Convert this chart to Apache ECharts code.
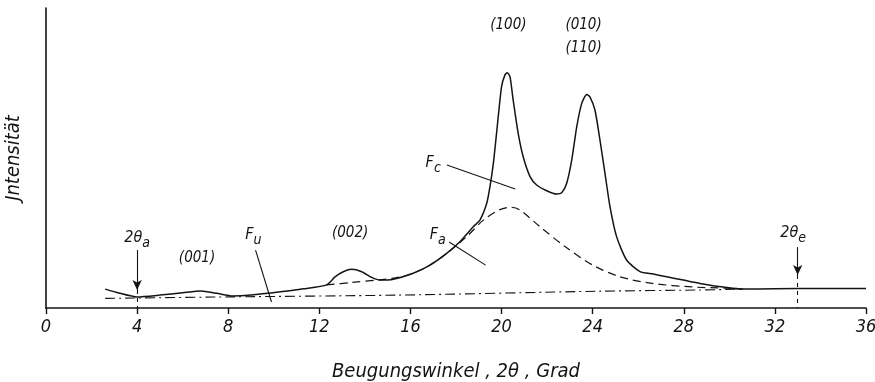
<!DOCTYPE html>
<html>
<head>
<meta charset="utf-8">
<script src="https://cdn.jsdelivr.net/npm/echarts@6/dist/echarts.min.js"></script>
<style>
html,body{margin:0;padding:0;background:#fff;}
#chart{width:875px;height:382px;}
</style>
</head>
<body>
<div id="chart"></div>
<script>
// ---- data (angle 2θ in degrees, intensity in arbitrary units) ----
var totalX = [2.6, 3.2, 4.0, 5.0, 6.0, 6.8, 7.5, 8.2, 9.0, 10.3, 11.3, 12.32, 12.69, 13.05, 13.42, 13.86, 14.3, 14.66, 15.25, 16.12, 16.86, 17.59, 18.17, 18.76, 19.05, 19.35, 19.49, 19.64, 19.78, 20.0, 20.15, 20.25, 20.37, 20.51, 20.73, 20.95, 21.25, 21.54, 21.98, 22.42, 22.64, 22.86, 23.08, 23.3, 23.52, 23.74, 23.88, 24.1, 24.32, 24.54, 24.76, 25.05, 25.49, 26.08, 26.66, 27.25, 27.98, 28.71, 29.9, 30.6, 32, 34, 36];
var totalY = [6.3, 5.0, 3.7, 4.3, 5.1, 5.7, 4.9, 4.0, 4.3, 5.4, 6.4, 7.7, 10.4, 12.1, 12.9, 12.1, 10.2, 9.3, 9.6, 11.6, 14.3, 18.2, 22.1, 27.1, 29.3, 34.9, 40.4, 48.2, 58.2, 73.8, 77.7, 78.4, 77.1, 69.3, 58.2, 50.4, 43.8, 41.0, 39.1, 38.0, 38.4, 41.6, 49.3, 60.4, 68.2, 71.2, 70.4, 66.0, 56.0, 44.9, 33.8, 23.8, 16.0, 12.1, 11.3, 10.4, 9.3, 8.2, 6.8, 6.3, 6.4, 6.5, 6.5];
var amorphX = [12.32, 13.4, 14.66, 15.5, 16.12, 16.86, 17.59, 18.5, 19.2, 19.9, 20.4, 20.8, 21.7, 22.8, 24.0, 25.2, 26.6, 28.4, 29.9, 30.6];
var amorphY = [7.7, 8.5, 9.4, 10.3, 11.6, 14.3, 18.2, 24.0, 29.3, 32.7, 33.6, 32.7, 27.0, 20.4, 14.3, 10.4, 8.2, 7.0, 6.6, 6.3];
var backgrX = [2.6, 8.0, 15.5, 24.3, 28.7, 30.6];
var backgrY = [3.2, 3.7, 4.3, 5.6, 6.0, 6.3];
var xTicks = [0, 4, 8, 12, 16, 20, 24, 28, 32, 36];
var angleA = 4;
var angleE = 33;

function pairs(xs, ys){ return xs.map(function(x,i){ return [x, ys[i]]; }); }

var FONT = "'DejaVu Sans Condensed','DejaVu Sans',sans-serif";
var INK = '#141414';

var chart = echarts.init(document.getElementById('chart'), null, {renderer:'canvas'});

// annotations in data coordinates
var notes = [
  {t:'{m|2θ}{s|a}', at:[4.0, 23.3]},
  {t:'(001)', at:[6.63, 16.7]},
  {t:'{m|F}{s|u}', at:[9.1, 24.3]},
  {t:'(002)', at:[13.35, 25.0]},
  {t:'{m|F}{s|a}', at:[17.2, 24.3]},
  {t:'{m|F}{s|c}', at:[17.0, 48.3]},
  {t:'(100)', at:[20.3, 94.3]},
  {t:'(010)', at:[23.6, 94.3]},
  {t:'(110)', at:[23.6, 86.7]},
  {t:'{m|2θ}{s|e}', at:[32.8, 25.0]}
];
var leaders = [
  [[9.2, 19.3], [9.9, 2.0]],
  [[17.7, 22.0], [19.3, 14.3]],
  [[17.6, 47.7], [20.6, 39.7]]
];
var arrows = [
  [[angleA, 19.3], [angleA, 6.0]],
  [[angleE, 20.3], [angleE, 11.0]]
];
var drops = [
  [[angleA, 6.0], [angleA, 0]],
  [[angleE, 11.0], [angleE, 0]]
];

function lineSeg(seg){ return [{coord: seg[0]}, {coord: seg[1]}]; }

chart.setOption({
  animation: false,
  backgroundColor: '#ffffff',
  grid: {left: 46, right: 9, top: 8, bottom: 74, containLabel: false, outerBoundsMode: 'none'},
  xAxis: {
    type: 'value', min: 0, max: 36, interval: 4,
    name: 'Beugungswinkel , 2θ , Grad',
    nameLocation: 'middle', nameGap: 54,
    nameTextStyle: {fontFamily: FONT, fontStyle: 'italic', fontSize: 20, color: INK},
    axisLine: {lineStyle: {color: INK, width: 1.6}},
    axisTick: {show: true, length: 6, lineStyle: {color: INK, width: 1.4}},
    axisLabel: {fontFamily: FONT, fontStyle: 'italic', fontSize: 18, color: INK, margin: 10,
      formatter: function(v){ return xTicks.indexOf(v) >= 0 ? String(v) : ''; }},
    splitLine: {show: false}
  },
  yAxis: {
    type: 'value', min: 0, max: 100,
    name: 'Jntensität', nameLocation: 'middle', nameGap: 22, nameRotate: 90,
    nameTextStyle: {fontFamily: FONT, fontStyle: 'italic', fontSize: 20, color: INK},
    axisLine: {show: true, lineStyle: {color: INK, width: 1.6}},
    axisTick: {show: false}, axisLabel: {show: false}, splitLine: {show: false}
  },
  series: [
    {type: 'line', name: 'total', data: pairs(totalX, totalY), smooth: 0.22, showSymbol: false,
     lineStyle: {color: INK, width: 1.5}, z: 5,
     markLine: {silent: true, symbol: ['none','none'], animation: false,
       lineStyle: {color: INK, width: 1.1, type: 'solid'}, label: {show: false},
       data: leaders.map(lineSeg)}},
    {type: 'line', name: 'Fa', data: pairs(amorphX, amorphY), smooth: 0.3, showSymbol: false,
     lineStyle: {color: INK, width: 1.2, type: [8, 5]}, z: 4,
     markLine: {silent: true, symbol: ['none','arrow'], symbolSize: [7, 10], animation: false,
       lineStyle: {color: INK, width: 1.1, type: 'solid'}, label: {show: false},
       data: arrows.map(lineSeg)}},
    {type: 'line', name: 'Fu', data: pairs(backgrX, backgrY), smooth: 0.3, showSymbol: false,
     lineStyle: {color: INK, width: 1.1, type: [10, 4, 2, 4]}, z: 3,
     markLine: {silent: true, symbol: ['none','none'], animation: false,
       lineStyle: {color: INK, width: 1.1, type: [4, 4]}, label: {show: false},
       data: drops.map(lineSeg)}}
  ]
});

var g = notes.map(function(n){
  var p = chart.convertToPixel({gridIndex: 0}, n.at);
  return {
    type: 'text', x: p[0], y: p[1], z: 10,
    style: {
      text: n.t, align: 'center', verticalAlign: 'middle',
      fontFamily: FONT, fontStyle: 'italic', fontSize: 15, fill: INK,
      rich: {
        m: {fontFamily: FONT, fontStyle: 'italic', fontSize: 16, fill: INK},
        s: {fontFamily: FONT, fontStyle: 'italic', fontSize: 14, fill: INK, padding: [10, 0, 0, 0]}
      }
    }
  };
});
chart.setOption({graphic: g});
</script>
</body>
</html>
